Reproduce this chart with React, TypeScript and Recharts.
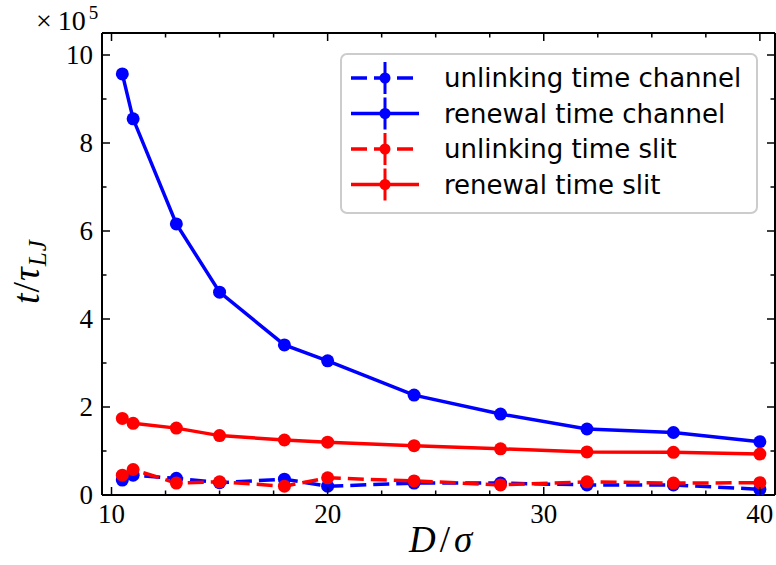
import React from 'react';
import { LineChart, Line, XAxis, YAxis } from 'recharts';

// D/sigma values shared by every series
const dValues = [10.5, 11, 13, 15, 18, 20, 24, 28, 32, 36, 40];
// times in units of 1e5 tau_LJ
const unlinkChannel = [0.34, 0.45, 0.38, 0.28, 0.36, 0.2, 0.27, 0.27, 0.23, 0.23, 0.13];
const renewalChannel = [9.57, 8.55, 6.16, 4.61, 3.41, 3.05, 2.27, 1.84, 1.5, 1.42, 1.21];
const unlinkSlit = [0.45, 0.58, 0.27, 0.3, 0.2, 0.39, 0.32, 0.23, 0.3, 0.27, 0.28];
const renewalSlit = [1.74, 1.63, 1.52, 1.35, 1.25, 1.2, 1.12, 1.05, 0.98, 0.97, 0.93];

const xTicks = [10, 12.5, 15, 17.5, 20, 22.5, 25, 27.5, 30, 32.5, 35, 37.5, 40];
const xMajor = [10, 20, 30, 40];
const yTicks = [0, 1, 2, 3, 4, 5, 6, 7, 8, 9, 10];
const yMajor = [0, 2, 4, 6, 8, 10];

const BLUE = '#0000ff';
const RED = '#ff0000';
const SERIF = '"Liberation Serif", "DejaVu Serif", serif';
const SANS = '"DejaVu Sans", sans-serif';

const series = [
  { key: 'unlinkChannel', name: 'unlinking time channel', color: BLUE, dashed: true },
  { key: 'renewalChannel', name: 'renewal time channel', color: BLUE, dashed: false },
  { key: 'unlinkSlit', name: 'unlinking time slit', color: RED, dashed: true },
  { key: 'renewalSlit', name: 'renewal time slit', color: RED, dashed: false },
];

const data = dValues.map((d, i) => ({
  d,
  unlinkChannel: unlinkChannel[i],
  renewalChannel: renewalChannel[i],
  unlinkSlit: unlinkSlit[i],
  renewalSlit: renewalSlit[i],
}));

// ticks point into the plot, matplotlib style
const BottomTick = ({ x, y, payload }: any) => {
  const major = xMajor.includes(payload.value);
  return (
    <g>
      <line x1={x} y1={y} x2={x} y2={y - (major ? 8 : 4.5)} stroke="#000" strokeWidth={1.5} />
      {major && (
        <text x={x} y={y + 28} textAnchor="middle" fontFamily={SERIF} fontSize={27} fill="#000">
          {payload.value}
        </text>
      )}
    </g>
  );
};

const TopTick = ({ x, y, payload }: any) => {
  const major = xMajor.includes(payload.value);
  return <line x1={x} y1={y} x2={x} y2={y + (major ? 8 : 4.5)} stroke="#000" strokeWidth={1.5} />;
};

const LeftTick = ({ x, y, payload }: any) => {
  const major = yMajor.includes(payload.value);
  return (
    <g>
      <line x1={x} y1={y} x2={x + (major ? 8 : 4.5)} y2={y} stroke="#000" strokeWidth={1.5} />
      {major && (
        <text x={x - 9} y={y + 9} textAnchor="end" fontFamily={SERIF} fontSize={27} fill="#000">
          {payload.value}
        </text>
      )}
    </g>
  );
};

const RightTick = ({ x, y, payload }: any) => {
  const major = yMajor.includes(payload.value);
  return <line x1={x} y1={y} x2={x - (major ? 8 : 4.5)} y2={y} stroke="#000" strokeWidth={1.5} />;
};

const LegendBox = () => (
  <svg width={418} height={161} style={{ display: 'block' }}>
    <rect x={1} y={1} width={416} height={159} rx={6} fill="#fff" fillOpacity={0.8} stroke="#cccccc" strokeWidth={2} />
    {series.map((s, i) => {
      const cy = 25 + i * 35.5;
      return (
        <g key={s.key}>
          <line x1={11} y1={cy} x2={79} y2={cy} stroke={s.color} strokeWidth={3.5} strokeDasharray={s.dashed ? '16 7' : undefined} />
          <line x1={45} y1={cy - 16} x2={45} y2={cy + 16} stroke={s.color} strokeWidth={3} />
          <circle cx={45} cy={cy} r={5.5} fill={s.color} />
          <text x={104} y={cy + 9} fontFamily={SANS} fontSize={26} fill="#000">
            {s.name}
          </text>
        </g>
      );
    })}
  </svg>
);

export default function App() {
  return (
    <div style={{ position: 'absolute', left: 0, top: 0, width: 776, height: 565, background: '#fff' }}>
      <LineChart width={776} height={565} data={data} margin={{ top: 32, right: 0, bottom: 69, left: 101 }}>
        <XAxis
          xAxisId="bottom"
          dataKey="d"
          type="number"
          domain={[9.56, 40.7]}
          ticks={xTicks}
          interval={0}
          height={1}
          tickSize={0}
          tickMargin={0}
          tickLine={false}
          tick={<BottomTick />}
          axisLine={{ stroke: '#000', strokeWidth: 2 }}
          allowDataOverflow
        />
        <XAxis
          xAxisId="top"
          orientation="top"
          dataKey="d"
          type="number"
          domain={[9.56, 40.7]}
          ticks={xTicks}
          interval={0}
          height={1}
          tickSize={0}
          tickMargin={0}
          tickLine={false}
          tick={<TopTick />}
          axisLine={{ stroke: '#000', strokeWidth: 2 }}
          allowDataOverflow
        />
        <YAxis
          yAxisId="left"
          type="number"
          domain={[0, 10.5]}
          ticks={yTicks}
          interval={0}
          width={1}
          tickSize={0}
          tickMargin={0}
          tickLine={false}
          tick={<LeftTick />}
          axisLine={{ stroke: '#000', strokeWidth: 2 }}
          allowDataOverflow
        />
        <YAxis
          yAxisId="right"
          orientation="right"
          type="number"
          domain={[0, 10.5]}
          ticks={yTicks}
          interval={0}
          width={1}
          tickSize={0}
          tickMargin={0}
          tickLine={false}
          tick={<RightTick />}
          axisLine={{ stroke: '#000', strokeWidth: 2 }}
          allowDataOverflow
        />
        {series.map((s) => (
          <Line
            key={s.key}
            xAxisId="bottom"
            yAxisId="left"
            dataKey={s.key}
            name={s.name}
            type="linear"
            stroke={s.color}
            strokeWidth={3.5}
            strokeDasharray={s.dashed ? '16 7' : undefined}
            dot={{ r: 6.5, fill: s.color, stroke: s.color, strokeWidth: 0 }}
            activeDot={false}
            isAnimationActive={false}
          />
        ))}
      </LineChart>
      <div style={{ position: 'absolute', left: 340, top: 53 }}>
        <LegendBox />
      </div>
      <svg width={776} height={565} style={{ position: 'absolute', left: 0, top: 0, pointerEvents: 'none' }}>
        <text x={36} y={30} fontFamily={SERIF} fontSize={28} fill="#000">
          ×<tspan dx={6}>10</tspan>
          <tspan dx={3} dy={-11} fontSize={19}>5</tspan>
        </text>
        <text x={409} y={552} fontFamily={SERIF} fontSize={37} fill="#000" letterSpacing={4}>
          <tspan fontStyle="italic">D</tspan>/<tspan fontStyle="italic">σ</tspan>
        </text>
        <g transform="translate(39, 304) rotate(-90)">
          <text x={0} y={0} fontFamily={SERIF} fontSize={38} fill="#000" letterSpacing={1}>
            <tspan fontStyle="italic">t</tspan>/<tspan fontStyle="italic">τ</tspan>
            <tspan fontStyle="italic" fontSize={25} dy={7}>LJ</tspan>
          </text>
        </g>
      </svg>
    </div>
  );
}
